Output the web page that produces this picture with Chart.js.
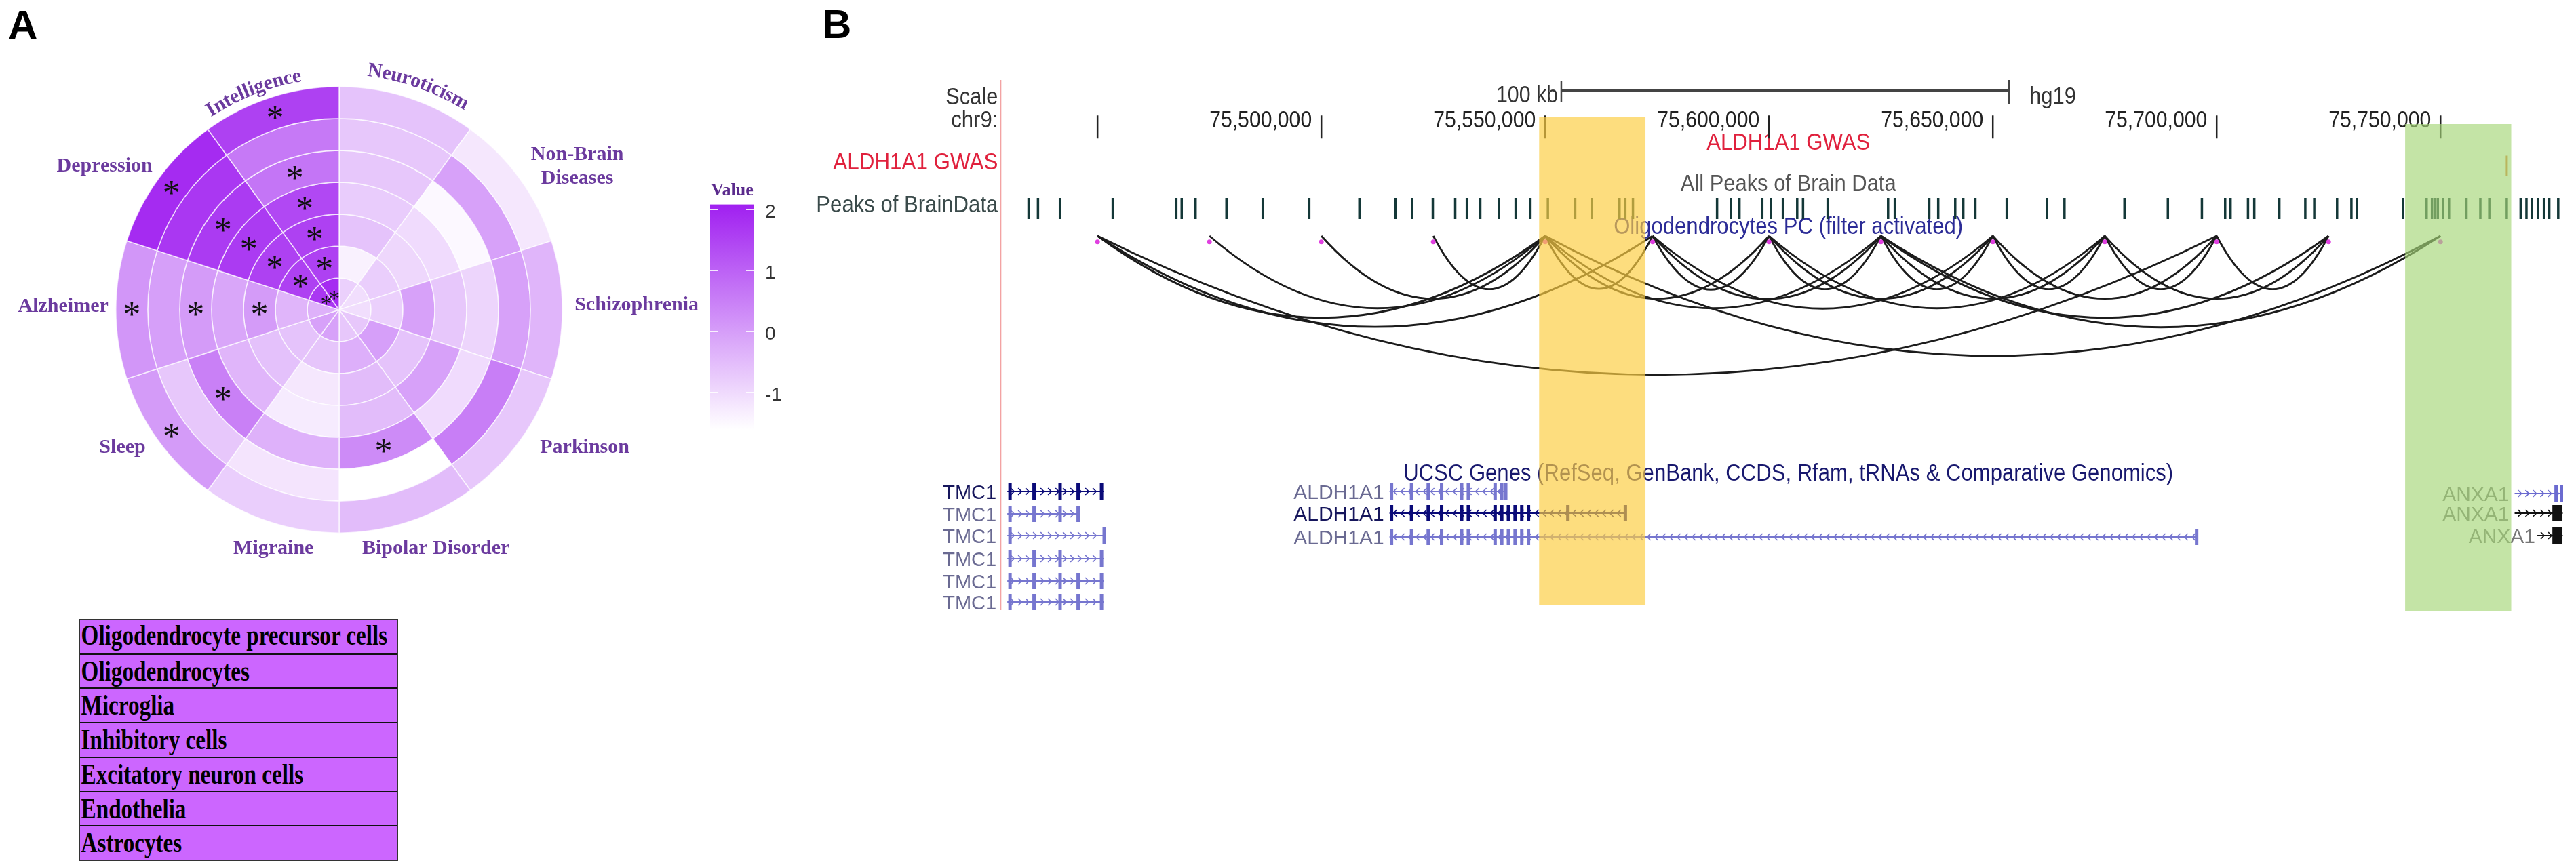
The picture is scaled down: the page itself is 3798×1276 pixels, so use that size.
<!DOCTYPE html>
<html>
<head>
<meta charset="utf-8">
<script src="https://cdn.jsdelivr.net/npm/chart.js@4.4.1/dist/chart.umd.min.js"></script>
<style>
html,body{margin:0;padding:0;background:#fff;}
body{width:3798px;height:1276px;position:relative;overflow:hidden;font-family:"Liberation Sans",Arial,sans-serif;}
#cA{position:absolute;left:0;top:0;}
#cB{position:absolute;left:1180px;top:0;}
.panel{position:absolute;font:bold 60px "Liberation Sans",Arial,sans-serif;color:#000;line-height:69px;}
#legendBox{position:absolute;left:116px;top:913px;width:471px;height:357px;border:2px solid #333;background:#cc66ff;box-sizing:border-box;}
#legendBox .row{position:absolute;left:0;right:0;height:51px;box-sizing:border-box;border-top:2px solid #111;overflow:hidden;white-space:nowrap;}
#legendBox .row span{display:inline-block;font:bold 42px "Liberation Serif","Times New Roman",serif;line-height:48px;color:#000;transform:scaleX(0.79);transform-origin:left center;padding-left:2px;}
</style>
</head>
<body>
<div class="panel" style="left:12px;top:2px">A</div>
<div class="panel" style="left:1212px;top:1px">B</div>
<canvas id="cA" width="1180" height="900"></canvas>
<canvas id="cB" width="2618" height="1276"></canvas>
<div id="legendBox"></div>
<script>
// ---------------- Panel A data ----------------
const traits = ["Neuroticism","Non-Brain Diseases","Schizophrenia","Parkinson","Bipolar Disorder","Migraine","Sleep","Alzheimer","Depression","Intelligence"];
const cellTypes = ["Oligodendrocyte precursor cells","Oligodendrocytes","Microglia","Inhibitory cells","Excitatory neuron cells","Endothelia","Astrocytes"];
// values per cell type (outer ring first), in trait order
const opcValues        = [-0.68,-1.29,-0.46,-0.76,-0.57,-0.87,-0.01, 0.07,1.87,1.50];
const oligoValues      = [-0.76,-0.12,-0.12, 0.48,-1.70,-1.25,-0.76,-0.08,1.68,0.56];
const microgliaValues  = [-0.76,-1.59,-0.99,-1.10, 0.26,-0.38, 0.44,-0.01,1.61,0.63];
const inhibitoryValues = [-0.84,-1.10,-0.76,-0.12,-0.57,-1.36,-0.46,-0.20,1.61,1.38];
const excitatoryValues = [-0.68,-1.02,-0.12,-0.68,-0.57,-1.29,-0.65,-0.01,1.50,1.50];
const endotheliaValues = [-1.47,-0.87,-0.91,-0.08,-0.35,-0.72,-0.68,-0.46,1.50,1.50];
const astrocyteValues  = [-0.91,-1.14,-1.14,-0.76,-0.76,-0.12,-0.12,-0.38,1.68,1.87];
// significant cells (asterisks)
const opcSignificant        = ["Sleep","Alzheimer","Depression","Intelligence"];
const oligoSignificant      = [];
const microgliaSignificant  = ["Bipolar Disorder","Sleep","Alzheimer","Depression","Intelligence"];
const inhibitorySignificant = ["Depression","Intelligence"];
const excitatorySignificant = ["Alzheimer","Depression","Intelligence"];
const endotheliaSignificant = ["Depression","Intelligence"];
const astrocyteSignificant  = ["Depression","Intelligence"];
const colorbarTicks = [2, 1, 0, -1];
const colorScaleMin = -1.7, colorScaleMax = 2.06;

// ---------------- Panel B data ----------------
const viewStart = 75386567, viewEnd = 75777313;       // x-axis range (bp)
const windowLeftEdge = 75428358;                       // left border of browser image
const rulerTicks  = [75450000,75500000,75550000,75600000,75650000,75700000,75750000];
const rulerLabels = ["","75,500,000","75,550,000","75,600,000","75,650,000","75,700,000","75,750,000"];
const scaleBar = [75553600, 75653600];                 // 100 kb
const peakPositions = [75434600,75436700,75441600,75453400,75467600,75468800,75471900,75478800,75486900,75497300,
  75508500,75516600,75520300,75524900,75529900,75532500,75535500,75539700,75543400,75546700,75550600,75556700,
  75560400,75566600,75567900,75569600,75588400,75591500,75593400,75598500,75600400,75603100,75606300,75607600,
  75613100,75626600,75628100,75635800,75637800,75641600,75643400,75646100,75653100,75662100,75666000,75679400,
  75689100,75696700,75701900,75703100,75707000,75708400,75714000,75719800,75721800,75726900,75730100,75731300,
  75741600,75746900,75748100,75748800,75749400,75750600,75751900,75755800,75758900,75760900,75764800,75767900,
  75769200,75770400,75771800,75773100,75774300,75776300];
const anchorPositions = [75450000,75475000,75500000,75525000,75550000,75574000,75600000,75625000,75650000,75675000,75700000,75725000,75750000];
const loopPairs = [[0,4],[0,5],[0,10],[1,4],[2,4],[3,4],[4,5],[4,6],[4,7],[4,12],[5,6],[5,7],[5,8],
  [6,7],[6,8],[6,9],[7,8],[7,9],[7,11],[7,12],[8,9],[8,10],[9,10],[9,11],[10,11]];
const gwasHits = [75764800];
const yellowHighlight = [75548650, 75572400];
const greenHighlight  = [75742100, 75765800];
// transcripts: [start, end, exon positions]
const tmc1Transcripts = [
  [75429850,75451490,[75430450,75435820,75441640,75445670,75450900]],
  [75429850,75445670,[75430450,75435820,75441640,75445670]],
  [75429850,75451490,[75430450,75451490]],
  [75429850,75451490,[75430450,75435820,75441640,75450900]],
  [75429850,75451490,[75430450,75435820,75441640,75445670,75450900]],
  [75429850,75451490,[75430450,75435820,75441640,75445670,75450900]]
];
const aldh1a1Transcripts = [
  [75515220,75541190,[75515670,75520150,75523880,75526870,75531340,75532840,75538810,75540300,75541190]],
  [75515220,75567910,[75515670,75520150,75523880,75526870,75531340,75532840,75538810,75540300,75541790,75543280,75544780,75546270,75555070,75567910]],
  [75515220,75695520,[75515670,75520150,75523880,75526870,75531340,75532840,75538810,75540300,75541790,75543280,75544780,75546270,75695520]]
];
const anxa1Transcripts = [
  [75766560,75777310,[75775820,75777010]],
  [75766560,75777310,[75775370,75776110,75776860]],
  [75771640,75777310,[75775370,75776110,75776860]]
];

// ---------------- helpers ----------------
function fillColor(v){
  const t = Math.max(0, Math.min(1, (v - colorScaleMin) / (colorScaleMax - colorScaleMin)));
  return `rgb(${Math.round(255 - 95*t)},${Math.round(255 - 223*t)},${Math.round(255 - 15*t)})`;
}
function text(ctx, s, x, y, fontPx, family, color, align, maxW, weight){
  ctx.save();
  ctx.font = `${weight||''} ${fontPx}px ${family}`;
  ctx.fillStyle = color; ctx.textAlign = align || 'left'; ctx.textBaseline = 'alphabetic';
  if (maxW) ctx.fillText(s, x, y + 0.36*fontPx, maxW); else ctx.fillText(s, x, y + 0.36*fontPx);
  ctx.restore();
}
const SANS = '"Liberation Sans", Arial, sans-serif';
const SERIF = '"Liberation Serif", "Times New Roman", serif';

// ---------------- Panel A ----------------
const ringValues = [opcValues, oligoValues, microgliaValues, inhibitoryValues, excitatoryValues, endotheliaValues, astrocyteValues];
const ringSignificant = [opcSignificant, oligoSignificant, microgliaSignificant, inhibitorySignificant, excitatorySignificant, endotheliaSignificant, astrocyteSignificant];
const labelColor = '#6b3a9e';
const straightLabels = {
  "Depression":        {dx:-276, dy:-215, align:'right'},
  "Non-Brain Diseases":{dx: 352, dy:-215, align:'center', lines:["Non-Brain","Diseases"]},
  "Alzheimer":         {dx:-341, dy:-8,   align:'right'},
  "Schizophrenia":     {dx: 348, dy:-10,  align:'left'},
  "Sleep":             {dx:-286, dy:201,  align:'right'},
  "Parkinson":         {dx: 297, dy:201,  align:'left'},
  "Migraine":          {dx:-97,  dy:350,  align:'center'},
  "Bipolar Disorder":  {dx: 143, dy:350,  align:'center'}
};
const curvedLabels = {"Intelligence":{angle:-21.4, r:350}, "Neuroticism":{angle:19.4, r:356}};

function arcText(ctx, s, cx, cy, r, angDeg){
  const total = ctx.measureText(s).width;
  let a = angDeg*Math.PI/180 - total/(2*r);
  for (const ch of s){
    const w = ctx.measureText(ch).width;
    const aa = a + w/(2*r);
    ctx.save();
    ctx.translate(cx + r*Math.sin(aa), cy - r*Math.cos(aa));
    ctx.rotate(aa);
    ctx.fillText(ch, 0, 0);
    ctx.restore();
    a += w/r;
  }
}

const polarDecor = {
  id:'polarDecor',
  afterDraw(chart){
    const ctx = chart.ctx;
    const outer = chart.getDatasetMeta(0).data[0];
    const cx = outer.x, cy = outer.y, R = outer.outerRadius, s = R/330;
    // asterisks
    ringSignificant.forEach((list, i) => {
      const meta = chart.getDatasetMeta(i);
      list.forEach(name => {
        const j = traits.indexOf(name);
        const p = meta.data[j].getCenterPoint();
        const fs = i === ringSignificant.length - 1 ? 34 : 52;
        ctx.save();
        ctx.font = `${fs}px ${SERIF}`; ctx.fillStyle = '#111'; ctx.textAlign = 'center'; ctx.textBaseline = 'alphabetic';
        ctx.fillText('*', p.x, p.y + 0.47*fs);
        ctx.restore();
      });
    });
    // trait labels
    traits.forEach(name => {
      if (straightLabels[name]){
        const L = straightLabels[name];
        const lines = L.lines || [name];
        lines.forEach((ln, k) => {
          const y = cy + L.dy*s + (k - (lines.length-1)/2) * 35;
          text(ctx, ln, cx + L.dx*s, y, 30, SERIF, labelColor, L.align, null, 'bold');
        });
      } else if (curvedLabels[name]){
        const C = curvedLabels[name];
        ctx.save();
        ctx.font = `bold 30px ${SERIF}`; ctx.fillStyle = labelColor; ctx.textAlign = 'center'; ctx.textBaseline = 'middle';
        arcText(ctx, name, cx, cy, C.r*s, C.angle);
        ctx.restore();
      }
    });
    // colour bar
    const barL = 1047, barR = 1112, y0 = 489, unit = 90;
    const yOf = v => y0 - v*unit;
    const top = yOf(colorScaleMax) - 2, bot = yOf(colorScaleMin) - 8;
    const g = ctx.createLinearGradient(0, top, 0, bot);
    for (let k = 0; k <= 10; k++){
      const v = colorScaleMax - (colorScaleMax - colorScaleMin)*k/10;
      g.addColorStop(k/10, fillColor(v));
    }
    ctx.fillStyle = g; ctx.fillRect(barL, top, barR - barL, bot - top);
    ctx.strokeStyle = 'rgba(255,255,255,0.85)'; ctx.lineWidth = 2;
    colorbarTicks.forEach(v => {
      const y = yOf(v);
      ctx.beginPath(); ctx.moveTo(barL, y); ctx.lineTo(barL + 12, y); ctx.moveTo(barR - 12, y); ctx.lineTo(barR, y); ctx.stroke();
      text(ctx, String(v), 1128, y + 2, 28, SANS, '#333', 'left');
    });
    text(ctx, 'Value', (barL + barR)/2, 279, 26, SERIF, '#5a2a8c', 'center', null, 'bold');
  }
};

new Chart(document.getElementById('cA'), {
  type: 'doughnut',
  data: {
    labels: traits,
    datasets: ringValues.map((vals, i) => ({
      label: cellTypes[i],
      data: traits.map(() => 1),
      backgroundColor: vals.map(fillColor),
      borderColor: 'rgba(255,255,255,0.7)',
      borderWidth: 1.6,
      hoverOffset: 0
    }))
  },
  options: {
    responsive: false, animation: false, devicePixelRatio: 1, events: [],
    cutout: 0, rotation: 0, circumference: 360,
    layout: {padding: {left: 170, right: 350, top: 127, bottom: 113}},
    plugins: {legend: {display: false}, tooltip: {enabled: false}}
  },
  plugins: [polarDecor]
});

// legend table
const box = document.getElementById('legendBox');
cellTypes.forEach((c, i) => {
  const d = document.createElement('div');
  d.className = 'row';
  d.style.top = (i*50.7 - 2) + 'px';
  if (i === 0) d.style.borderTop = 'none';
  const sp = document.createElement('span'); sp.textContent = c; d.appendChild(sp);
  box.appendChild(d);
});

// ---------------- Panel B ----------------
const ROW = {ruler:173, rulerText:175, gwasLeft:237, gwasCenter:208, gwas:232, peaksLabel:300, peaks:297,
  allPeaks:269, pcTitle:332, anchor:348, genesTitle:696};
const tmc1Rows = [725,758,790,824,857,888];
const aldhRows = [725,757,792];
const anxaRows = [728,757,790];

function drawTranscript(ctx, xs, t, y, color, strand, clipR){
  const x1 = xs(t[0]), x2 = Math.min(xs(t[1]), clipR);
  ctx.save();
  ctx.strokeStyle = color; ctx.fillStyle = color;
  ctx.lineWidth = 2;
  ctx.beginPath(); ctx.moveTo(x1, y); ctx.lineTo(x2, y); ctx.stroke();
  ctx.lineWidth = 1.7;
  for (let x = x1 + 8; x < x2 - 4; x += 11){
    ctx.beginPath();
    if (strand > 0){ ctx.moveTo(x - 3, y - 5); ctx.lineTo(x + 2, y); ctx.lineTo(x - 3, y + 5); }
    else { ctx.moveTo(x + 3, y - 5); ctx.lineTo(x - 2, y); ctx.lineTo(x + 3, y + 5); }
    ctx.stroke();
  }
  t[2].forEach(e => { const ex = xs(e); if (ex <= clipR) ctx.fillRect(ex - 2.5, y - 12, 5, 24); });
  ctx.restore();
}

const browserDecor = {
  id:'browserDecor',
  beforeDatasetsDraw(chart){
    const ctx = chart.ctx, X = chart.scales.x;
    const xs = v => X.getPixelForValue(v);
    const W = chart.width;
    const edge = xs(windowLeftEdge);
    const mid = (edge + W)/2;
    // left border line
    ctx.save(); ctx.strokeStyle = '#f3a3a3'; ctx.lineWidth = 2;
    ctx.beginPath(); ctx.moveTo(edge, 118); ctx.lineTo(edge, 900); ctx.stroke(); ctx.restore();
    // track labels
    const lx = edge - 4;
    text(ctx, 'Scale', lx, 141, 35, SANS, '#333', 'right', 77);
    text(ctx, 'chr9:', lx, ROW.rulerText, 35, SANS, '#333', 'right', 69);
    text(ctx, 'ALDH1A1 GWAS', lx, ROW.gwasLeft, 35, SANS, '#e0213d', 'right', 243);
    text(ctx, 'Peaks of BrainData', lx, ROW.peaksLabel, 35, SANS, '#3a4a4a', 'right', 268);
    // scale bar
    const s1 = xs(scaleBar[0]), s2 = xs(scaleBar[1]);
    ctx.save(); ctx.strokeStyle = '#444'; ctx.lineWidth = 4;
    ctx.beginPath(); ctx.moveTo(s1, 133); ctx.lineTo(s2, 133); ctx.stroke();
    ctx.lineWidth = 2.5;
    ctx.beginPath(); ctx.moveTo(s1, 120); ctx.lineTo(s1, 150); ctx.moveTo(s2, 118); ctx.lineTo(s2, 153); ctx.stroke();
    ctx.restore();
    text(ctx, '100 kb', s1 - 5, 138, 35, SANS, '#333', 'right', 91);
    text(ctx, 'hg19', s2 + 30, 140, 35, SANS, '#333', 'left', 69);
    // ruler labels
    rulerTicks.forEach((p, i) => { if (rulerLabels[i]) text(ctx, rulerLabels[i], xs(p) - 14, ROW.rulerText, 35, SANS, '#222', 'right', 151); });
    // centred track titles
    text(ctx, 'ALDH1A1 GWAS', mid, ROW.gwasCenter, 35, SANS, '#e0213d', 'center', 241);
    text(ctx, 'All Peaks of Brain Data', mid, ROW.allPeaks, 35, SANS, '#555', 'center', 318);
    text(ctx, 'Oligodendrocytes PC (filter activated)', mid, ROW.pcTitle, 35, SANS, '#2b2b96', 'center', 515);
    text(ctx, 'UCSC Genes (RefSeq, GenBank, CCDS, Rfam, tRNAs & Comparative Genomics)', mid, ROW.genesTitle, 35, SANS, '#18186e', 'center', 1135);
    // interaction arcs (arc depth grows with the pixel span, as in the browser's interact track)
    ctx.save(); ctx.strokeStyle = '#1c1c1c'; ctx.lineWidth = 2.8;
    loopPairs.forEach(([a, b]) => {
      const x1 = xs(anchorPositions[a]), x2 = xs(anchorPositions[b]);
      const span = Math.abs(x2 - x1);
      const depth = 64.7 + 0.0849 * span;
      ctx.beginPath(); ctx.moveTo(x1, ROW.anchor);
      ctx.quadraticCurveTo((x1 + x2)/2, ROW.anchor + 2*depth, x2, ROW.anchor);
      ctx.stroke();
    });
    ctx.restore();
    // genes
    tmc1Transcripts.forEach((t, i) => {
      const dark = i === 0;
      drawTranscript(ctx, xs, t, tmc1Rows[i], dark ? '#0a0a78' : '#7676cf', 1, W);
      text(ctx, 'TMC1', xs(t[0]) - 16, tmc1Rows[i], 30, SANS, dark ? '#16165c' : '#6a6a92', 'right', 79);
    });
    aldh1a1Transcripts.forEach((t, i) => {
      const dark = i === 1;
      drawTranscript(ctx, xs, t, aldhRows[i], dark ? '#0a0a78' : '#7676cf', -1, W);
      text(ctx, 'ALDH1A1', xs(t[0]) - 8, aldhRows[i], 30, SANS, dark ? '#16165c' : '#6a6a92', 'right', 137);
    });
    anxa1Transcripts.forEach((t, i) => {
      const dark = i > 0;
      drawTranscript(ctx, xs, t, anxaRows[i], dark ? '#111' : '#6b6bd0', 1, W);
      text(ctx, 'ANXA1', xs(t[0]) - (i === 2 ? 3 : 8), anxaRows[i], 30, SANS, '#777', 'right', 99);
    });
  },
  afterDraw(chart){
    const ctx = chart.ctx, X = chart.scales.x;
    const xs = v => X.getPixelForValue(v);
    ctx.save();
    ctx.fillStyle = 'rgba(252,205,65,0.68)';
    ctx.fillRect(xs(yellowHighlight[0]), 172, xs(yellowHighlight[1]) - xs(yellowHighlight[0]), 720);
    ctx.fillStyle = 'rgba(165,214,118,0.65)';
    ctx.fillRect(xs(greenHighlight[0]), 183, xs(greenHighlight[1]) - xs(greenHighlight[0]), 719);
    ctx.restore();
  }
};

new Chart(document.getElementById('cB'), {
  type: 'scatter',
  data: {
    datasets: [
      {label:'Peaks of BrainData', data: peakPositions.map(p => ({x:p, y:ROW.peaks})),
       pointStyle:'line', pointRotation:90, pointRadius:15.5, pointBorderWidth:3.5, pointBorderColor:'#143838', borderColor:'#143838'},
      {label:'chr9', data: rulerTicks.map(p => ({x:p, y:ROW.ruler})),
       pointStyle:'line', pointRotation:90, pointRadius:17, pointBorderWidth:2.5, pointBorderColor:'#222', borderColor:'#222'},
      {label:'ALDH1A1 GWAS', data: gwasHits.map(p => ({x:p, y:ROW.gwas})),
       pointStyle:'line', pointRotation:90, pointRadius:15, pointBorderWidth:3, pointBorderColor:'#e07a30', borderColor:'#e07a30'},
      {label:'Oligodendrocytes PC anchors', data: anchorPositions.map(p => ({x:p, y:ROW.anchor})),
       pointStyle:'circle', pointRadius:3.5, pointBackgroundColor:'#e040e0', pointBorderWidth:0, borderColor:'#e040e0'}
    ]
  },
  options: {
    responsive:false, animation:false, devicePixelRatio:1, events:[],
    layout:{padding:0},
    scales:{
      x:{type:'linear', min:viewStart, max:viewEnd, display:false},
      y:{type:'linear', min:0, max:1276, reverse:true, display:false}
    },
    plugins:{legend:{display:false}, tooltip:{enabled:false}}
  },
  plugins:[browserDecor]
});
</script>
</body>
</html>
